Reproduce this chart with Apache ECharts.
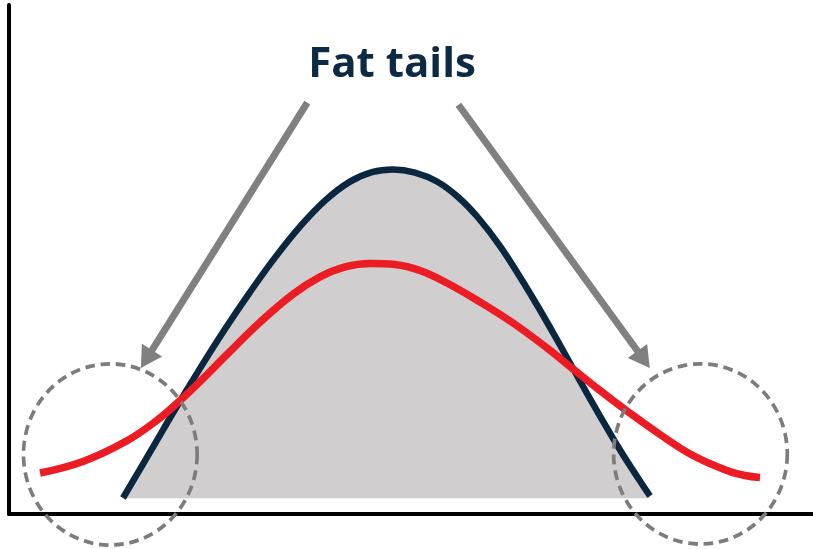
<!DOCTYPE html>
<html>
<head>
<meta charset="utf-8">
<script src="https://cdn.jsdelivr.net/npm/echarts@6/dist/echarts.min.js"></script>
<style>
html,body{margin:0;padding:0;background:#fff;}
#chart{width:813px;height:549px;}
</style>
</head>
<body>
<div id="chart"></div>
<script>
// Normal distribution (navy, filled)
const normalX = [14.18,17.54,21.02,23.76,26.87,29.98,33.08,36.19,39.30,42.41,45.15,47.76,50.50,53.23,55.85,58.33,61.07,63.56,66.04,68.53,71.02,73.51,76.00,78.48,79.73];
const normalY = [3.14,12.16,21.51,28.61,36.33,43.60,50.37,56.46,61.57,65.30,67.17,67.70,67.09,65.32,62.28,58.25,52.65,46.56,40.08,33.20,26.13,19.25,12.57,6.48,3.54];
const fillBase = 3.1;
// Fat-tailed distribution (red)
const fatX = [3.86,9.20,14.68,18.41,21.02,23.76,27.11,31.22,35.32,38.68,41.79,44.90,48.01,51.12,54.48,58.58,62.69,66.92,70.15,73.51,76.87,80.97,85.07,89.30,91.54,93.41];
const fatY = [8.06,10.33,14.40,18.41,21.93,26.03,31.34,37.68,43.18,46.58,48.55,49.23,49.02,47.84,45.38,41.65,37.52,32.61,28.49,24.26,20.24,15.62,11.49,8.55,7.56,7.17];
// Tail circles: [centerX, centerY, radiusX, radiusY]
const tailCircles = [[12.6,11.7,10.8,17.8],[86.0,11.8,10.8,17.7]];
// Arrows: [fromX, fromY, toX, toY]
const arrows = [[37.1,80.8,16.4,28.7],[55.9,80.4,79.7,28.7]];
const labelText = 'Fat tails';

const zip = (xs, ys) => xs.map((x, i) => [x, ys[i]]);

const chart = echarts.init(document.getElementById('chart'), null, {renderer:'canvas'});
chart.setOption({
  animation:false,
  backgroundColor:'#ffffff',
  grid:{left:9, right:0, top:5, bottom:35},
  xAxis:{type:'value', min:0, max:100, axisLine:{show:true, onZero:false, lineStyle:{color:'#000', width:4}},
    axisTick:{show:false}, axisLabel:{show:false}, splitLine:{show:false}},
  yAxis:{type:'value', min:0, max:100, axisLine:{show:true, onZero:false, lineStyle:{color:'#000', width:4}},
    axisTick:{show:false}, axisLabel:{show:false}, splitLine:{show:false}},
  graphic:[{
    type:'text', x:392, y:65,
    style:{text:labelText, font:'bold 42px "Open Sans"', fill:'#0c2a44', textAlign:'center', textVerticalAlign:'middle'}
  }],
  series:[
    {type:'line', data:zip(normalX, normalY), smooth:0.4, showSymbol:false, z:2,
      lineStyle:{color:'#0b2740', width:6.5},
      areaStyle:{color:'#d0cecf', opacity:1, origin:fillBase}},
    {type:'line', data:zip(fatX, fatY), smooth:0.4, showSymbol:false, z:3,
      lineStyle:{color:'#ec1c24', width:7.5}},
    {type:'custom', clip:false, z:4, data:tailCircles,
      renderItem:function(params, api){
        const c = api.coord([api.value(0), api.value(1)]);
        const s = api.size([api.value(2), api.value(3)]);
        return {type:'circle', x:c[0], y:c[1], scaleX:s[0]/s[1], scaleY:1,
          shape:{cx:0, cy:0, r:s[1]},
          style:{fill:null, stroke:'#7c7c7c', lineWidth:3.8, lineDash:[10,6]}};
      }},
    {type:'custom', clip:false, z:5, data:arrows,
      renderItem:function(params, api){
        const p1 = api.coord([api.value(0), api.value(1)]);
        const p2 = api.coord([api.value(2), api.value(3)]);
        const dx = p2[0]-p1[0], dy = p2[1]-p1[1];
        const len = Math.sqrt(dx*dx+dy*dy);
        const ux = dx/len, uy = dy/len, nx = -uy, ny = ux;
        const L = 21, W = 12;
        const b = [p2[0]-ux*L, p2[1]-uy*L];
        return {type:'group', children:[
          {type:'line', shape:{x1:p1[0], y1:p1[1], x2:b[0]+ux*2, y2:b[1]+uy*2},
            style:{stroke:'#808080', lineWidth:7}},
          {type:'polygon', shape:{points:[[p2[0],p2[1]],[b[0]+nx*W,b[1]+ny*W],[b[0]-nx*W,b[1]-ny*W]]},
            style:{fill:'#808080'}}
        ]};
      }}
  ]
});
</script>
</body>
</html>
